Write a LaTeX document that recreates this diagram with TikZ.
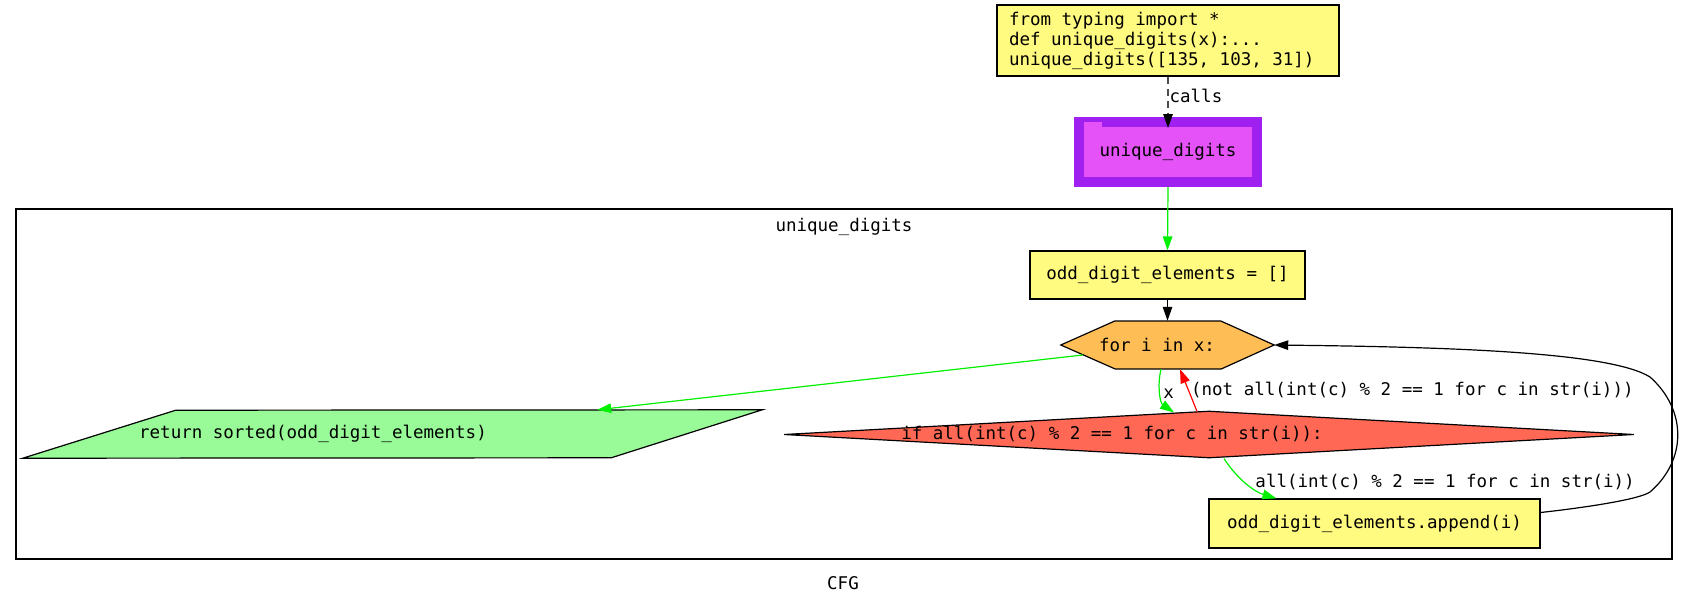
\documentclass[tikz,border=0pt]{standalone}
\usepackage{fontspec}
\usepackage{xcolor}
\usepackage{tikz}
\usetikzlibrary{arrows.meta,shapes.geometric,calc}

\newfontfamily\codefont{DejaVu Sans Mono}

\definecolor{codeYellow}{RGB}{255,250,128}
\definecolor{callPurple}{RGB}{160,32,240}
\definecolor{callPink}{RGB}{228,82,248}
\definecolor{loopOrange}{RGB}{255,190,85}
\definecolor{condRed}{RGB}{255,104,84}
\definecolor{retGreen}{RGB}{152,251,152}
\definecolor{edgeGreen}{RGB}{0,240,0}

\begin{document}
\begin{tikzpicture}[
    x=1pt,
    y=-1pt,
    font=\codefont\fontsize{17.5}{20}\selectfont,
    >={Triangle[length=14pt,width=9.5pt]},
    block/.style={
        draw,
        line width=1.2pt,
        fill=codeYellow,
        inner sep=0pt
    },
    frame/.style={
        draw=none,
        inner sep=0pt
    },
    flow/.style={
        ->,
        line width=1.2pt
    },
    yesflow/.style={
        ->,
        line width=1.2pt,
        draw=edgeGreen
    },
    noflow/.style={
        ->,
        line width=1.2pt,
        draw=red
    },
    callflow/.style={
        -{Triangle[length=14pt,width=9.5pt,black]},
        line width=1.2pt,
        draw=black!70,
        dash pattern=on 7pt off 5pt
    },
    edgeLabel/.style={
        inner sep=2pt
    }
]

\useasboundingbox (0,0) rectangle (1688,605);

% Cluster frame
\node[draw, line width=1.2pt, minimum width=1656pt, minimum height=350pt, inner sep=0pt] (cluster) at (844,384) {};
\node (clusterLabel) at (844,227) {unique\_digits};
\node (cfgLabel) at (843,583) {CFG};

% Caller and callee
\node[block, minimum width=342pt, minimum height=71pt, text width=318pt, align=left] (code) at (1168,40.5) {%
    \spaceskip=0pt\xspaceskip=0pt\relax
    from typing import *\\
    def unique\_digits(x):...\\
    unique\_digits([135, 103, 31])
};

\node[draw=callPurple, line width=10pt, fill=callPink, minimum width=178pt, minimum height=60pt, inner sep=0pt, outer sep=0pt] (call) at (1168,152) {unique\_digits};
\fill[callPink] ($(call.north west)+(5,0)$) rectangle +(18,5);

% Body
\node[block, minimum width=275pt, minimum height=48pt] (init) at (1167.5,275) {odd\_digit\_elements = []};

\node[frame, minimum width=213pt, minimum height=48pt] (loop) at (1167.5,345) {};
\filldraw[fill=loopOrange, line width=1.2pt]
    (loop.west) -- ++(54,-24) -- ++(106,0) -- (loop.east) -- ++(-53,24) -- ++(-106,0) -- cycle;
\node (loopText) at (1157,345) {for i in x:};

\node[frame, minimum width=739pt, minimum height=48pt] (ret) at (392.5,434) {};
\filldraw[fill=retGreen, line width=1.2pt]
    (ret.south west) -- ++(153,-48) -- (ret.north east) -- ++(-151,48) -- cycle;
\node (retText) at (313,434) {return sorted(odd\_digit\_elements)};

\node[diamond, draw, line width=1.2pt, fill=condRed, minimum width=850pt, minimum height=47pt, inner sep=0pt] (cond) at (1209,434.5) {};
\node (condText) at (1112,434) {if all(int(c) \% 2 == 1 for c in str(i)):};

\node[block, minimum width=331pt, minimum height=49pt] (append) at (1374.5,523.5) {odd\_digit\_elements.append(i)};

% Connectors
\draw[callflow]
    (code.south)
    --
    node[edgeLabel, pos=0.38, right, inner sep=1pt] {calls}
    ($(call.north)+(0,6)$);

\draw[yesflow] ($(call.south)+(0,5)$) -- (init.north);

\draw[flow] (init.south) -- (loop.north);

\draw[yesflow] ($(loop.west)+(22,10)$) -- ($(ret.north east)+(-165,0)$);

\draw[yesflow]
    ($(loop.south)+(-6.5,0)$)
    .. controls (1157,386) and (1160,403) ..
    node[edgeLabel, pos=0.5, anchor=west] {x}
    ($(cond.north)+(-35,2)$);

\draw[noflow]
    ($(cond.north)+(-12,1)$)
    --
    node[edgeLabel, pos=0.5, anchor=west] {(not all(int(c) \% 2 == 1 for c in str(i)))}
    ($(loop.south)+(12.5,0)$);

\draw[yesflow]
    ($(cond.south)+(15,0)$)
    .. controls (1238,480) and (1255,492) ..
    node[edgeLabel, pos=0.45, anchor=west, xshift=8pt] {all(int(c) \% 2 == 1 for c in str(i))}
    ($(append.north west)+(68,0)$);

% Loop back edge, routed round the right side
\coordinate (backA) at (1650,492);
\coordinate (backB) at (1650,377);

\draw[flow]
    ($(append.east)+(0,-11)$)
    .. controls (1590,507) and (1640,499) ..
    (backA)
    .. controls (1687,460) and (1687,410) ..
    (backB)
    .. controls (1610,352) and (1450,347) ..
    (loop.east);

\end{tikzpicture}
\end{document}
